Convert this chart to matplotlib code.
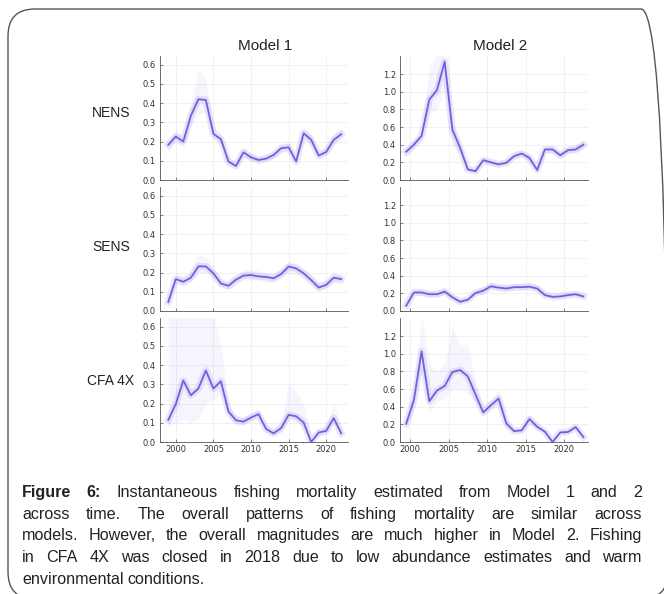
import matplotlib
matplotlib.use('Agg')
import matplotlib.pyplot as plt
from matplotlib.patches import FancyBboxPatch
from matplotlib.transforms import IdentityTransform
import numpy as np

# datos (mortalidad por pesca instantanea)
years = np.arange(1999, 2023)
regions = ["NENS", "SENS", "CFA 4X"]
models = ["Model 1", "Model 2"]

m1_nens = [0.183, 0.226, 0.200, 0.334, 0.420, 0.416, 0.240, 0.212, 0.096, 0.073, 0.144, 0.118,
           0.104, 0.111, 0.130, 0.165, 0.170, 0.097, 0.243, 0.209, 0.127, 0.146, 0.209, 0.238]
m1_nens_lo = [0.15, 0.19, 0.17, 0.28, 0.34, 0.35, 0.21, 0.19, 0.08, 0.06, 0.12, 0.10,
              0.09, 0.10, 0.11, 0.14, 0.15, 0.08, 0.21, 0.18, 0.11, 0.13, 0.18, 0.21]
m1_nens_hi = [0.21, 0.26, 0.23, 0.40, 0.58, 0.52, 0.28, 0.24, 0.12, 0.09, 0.17, 0.14,
              0.12, 0.13, 0.15, 0.19, 0.20, 0.12, 0.28, 0.24, 0.15, 0.17, 0.24, 0.27]

m2_nens = [0.32, 0.40, 0.50, 0.91, 1.02, 1.34, 0.57, 0.365, 0.12, 0.10, 0.225, 0.20,
           0.177, 0.195, 0.27, 0.30, 0.25, 0.113, 0.346, 0.346, 0.28, 0.338, 0.346, 0.40]
m2_nens_lo = [0.27, 0.35, 0.45, 0.75, 0.80, 1.05, 0.38, 0.30, 0.10, 0.08, 0.19, 0.17,
              0.15, 0.17, 0.24, 0.26, 0.21, 0.09, 0.30, 0.30, 0.24, 0.30, 0.31, 0.35]
m2_nens_hi = [0.36, 0.45, 0.56, 1.30, 1.42, 1.42, 0.65, 0.42, 0.15, 0.13, 0.26, 0.23,
              0.21, 0.23, 0.31, 0.34, 0.29, 0.14, 0.39, 0.39, 0.32, 0.38, 0.39, 0.45]

m1_sens = [0.047, 0.166, 0.152, 0.173, 0.232, 0.232, 0.196, 0.143, 0.131, 0.163, 0.184, 0.187,
           0.180, 0.177, 0.170, 0.192, 0.231, 0.222, 0.196, 0.161, 0.122, 0.136, 0.173, 0.166]
m1_sens_lo = [0.03, 0.14, 0.13, 0.15, 0.20, 0.20, 0.17, 0.12, 0.11, 0.14, 0.16, 0.16,
              0.16, 0.15, 0.15, 0.17, 0.20, 0.19, 0.17, 0.14, 0.10, 0.12, 0.15, 0.14]
m1_sens_hi = [0.06, 0.20, 0.18, 0.21, 0.30, 0.28, 0.23, 0.17, 0.16, 0.19, 0.21, 0.22,
              0.21, 0.20, 0.20, 0.22, 0.26, 0.25, 0.22, 0.19, 0.15, 0.16, 0.20, 0.19]

m2_sens = [0.06, 0.21, 0.21, 0.19, 0.19, 0.22, 0.155, 0.105, 0.128, 0.204, 0.23, 0.28,
           0.265, 0.255, 0.27, 0.27, 0.275, 0.255, 0.18, 0.16, 0.165, 0.18, 0.19, 0.165]
m2_sens_lo = [0.04, 0.18, 0.18, 0.16, 0.16, 0.19, 0.13, 0.09, 0.11, 0.18, 0.20, 0.25,
              0.24, 0.23, 0.24, 0.24, 0.25, 0.23, 0.16, 0.14, 0.15, 0.16, 0.17, 0.15]
m2_sens_hi = [0.08, 0.25, 0.25, 0.23, 0.23, 0.26, 0.19, 0.13, 0.15, 0.23, 0.27, 0.32,
              0.31, 0.30, 0.31, 0.32, 0.32, 0.30, 0.21, 0.19, 0.19, 0.21, 0.22, 0.19]

m1_cfa = [0.115, 0.197, 0.320, 0.243, 0.278, 0.372, 0.278, 0.316, 0.159, 0.113, 0.106, 0.127,
          0.145, 0.068, 0.045, 0.072, 0.141, 0.134, 0.101, 0.0, 0.049, 0.058, 0.124, 0.045]
m1_cfa_lo = [0.08, 0.10, 0.12, 0.10, 0.12, 0.20, 0.22, 0.25, 0.13, 0.09, 0.09, 0.11,
             0.12, 0.05, 0.03, 0.05, 0.11, 0.10, 0.07, 0.0, 0.03, 0.04, 0.10, 0.03]
m1_cfa_hi = [0.66, 0.66, 0.66, 0.66, 0.66, 0.66, 0.66, 0.50, 0.19, 0.14, 0.13, 0.15,
             0.17, 0.09, 0.07, 0.10, 0.30, 0.26, 0.20, 0.02, 0.07, 0.09, 0.20, 0.07]

m2_cfa = [0.207, 0.474, 1.026, 0.462, 0.583, 0.635, 0.793, 0.816, 0.744, 0.538, 0.335, 0.417,
          0.492, 0.21, 0.124, 0.132, 0.26, 0.173, 0.117, 0.0, 0.109, 0.113, 0.169, 0.056]
m2_cfa_lo = [0.17, 0.35, 0.80, 0.35, 0.45, 0.50, 0.60, 0.60, 0.55, 0.45, 0.29, 0.36,
             0.42, 0.17, 0.10, 0.11, 0.22, 0.15, 0.10, 0.0, 0.09, 0.09, 0.14, 0.04]
m2_cfa_hi = [0.25, 0.60, 1.42, 0.90, 0.80, 0.90, 1.30, 1.10, 1.10, 0.70, 0.40, 0.48,
             0.60, 0.26, 0.15, 0.16, 0.32, 0.21, 0.14, 0.02, 0.13, 0.14, 0.20, 0.08]

series = [[(m1_nens, m1_nens_lo, m1_nens_hi), (m2_nens, m2_nens_lo, m2_nens_hi)],
          [(m1_sens, m1_sens_lo, m1_sens_hi), (m2_sens, m2_sens_lo, m2_sens_hi)],
          [(m1_cfa, m1_cfa_lo, m1_cfa_hi), (m2_cfa, m2_cfa_lo, m2_cfa_hi)]]

caption_lines = [
    "Figure 6: Instantaneous fishing mortality estimated from Model 1 and 2",
    "across time. The overall patterns of fishing mortality are similar across",
    "models. However, the overall magnitudes are much higher in Model 2. Fishing",
    "in CFA 4X was closed in 2018 due to low abundance estimates and warm",
    "environmental conditions.",
]

color = '#6f60e2'
W, H = 664, 594
fig = plt.figure(figsize=(W / 100, H / 100), dpi=100)

# marco redondeado
frame = FancyBboxPatch((8, H - 599), 660, 590, boxstyle="round,pad=0,rounding_size=27",
                       transform=IdentityTransform(), fill=False, edgecolor='#555555', linewidth=1.0)
fig.patches.append(frame)

col_left = [160 / W, 400 / W]
col_w = 188 / W
row_bottom = [1 - 180 / H, 1 - 311 / H, 1 - 442 / H]
row_h = 124 / H
xlims = [(1997.9, 2022.9), (1998.7, 2023.1)]
ylims = [0.645, 1.405]
x_offset = [0.0, 0.5]
yticks = [np.arange(0, 0.61, 0.1), np.arange(0, 1.21, 0.2)]

for r in range(3):
    for c in range(2):
        ax = fig.add_axes([col_left[c], row_bottom[r], col_w, row_h])
        val, lo, hi = series[r][c]
        x = years + x_offset[c]
        ax.fill_between(x, lo, hi, color=color, alpha=0.06, linewidth=0)
        ax.plot(x, val, color=color, lw=5, alpha=0.15, solid_joinstyle='round')
        ax.plot(x, val, color=color, lw=1.3)
        ax.set_xlim(*xlims[c])
        ax.set_ylim(0, ylims[c])
        ax.set_xticks([2000, 2005, 2010, 2015, 2020])
        ax.set_yticks(yticks[c])
        ax.set_yticklabels(["%.1f" % v for v in yticks[c]])
        if r < 2:
            ax.set_xticklabels([])
        ax.grid(True, color='#ebebeb', linewidth=0.5)
        ax.set_axisbelow(True)
        for s in ['top', 'right']:
            ax.spines[s].set_visible(False)
        for s in ['left', 'bottom']:
            ax.spines[s].set_color('#555555')
            ax.spines[s].set_linewidth(0.6)
        ax.tick_params(direction='in', length=2, width=0.5, colors='#555555',
                       labelsize=6, labelcolor='#333333')
        ax.tick_params(axis='y', pad=3)
        ax.tick_params(axis='x', pad=2.5)

for c in range(2):
    fig.text([265 / W, 500 / W][c], 1 - 46 / H, models[c], ha='center', va='center',
             fontsize=11, family='Liberation Sans', color='#222222')

for r in range(3):
    fig.text(111 / W, 1 - [112.7, 246.7, 381][r] / H, regions[r], ha='center', va='center',
             fontsize=10, family='Liberation Sans', color='#222222')

# pie de figura justificado
renderer = fig.canvas.get_renderer()
x_left, x_right = 22, 642
baselines = [497, 519, 540, 562, 584]
cap_font = ['Liberation Sans Narrow', 'Liberation Sans']
cap_size = 11.6
for i, line in enumerate(caption_lines):
    words = line.split()
    objs = []
    for j, w in enumerate(words):
        bold = (i == 0 and j < 2)
        t = fig.text(0, H - baselines[i], w, transform=IdentityTransform(), fontsize=cap_size,
                     family=cap_font, weight='bold' if bold else 'normal',
                     va='baseline', ha='left', color='#222222')
        objs.append(t)
    widths = [t.get_window_extent(renderer).width for t in objs]
    if i < len(caption_lines) - 1:
        gap = (x_right - x_left - sum(widths)) / (len(words) - 1)
    else:
        gap = 0.25 * cap_size * 100 / 72
    xx = x_left
    for t, w in zip(objs, widths):
        t.set_x(xx)
        xx += w + gap

fig.savefig('out.png', dpi=100)
